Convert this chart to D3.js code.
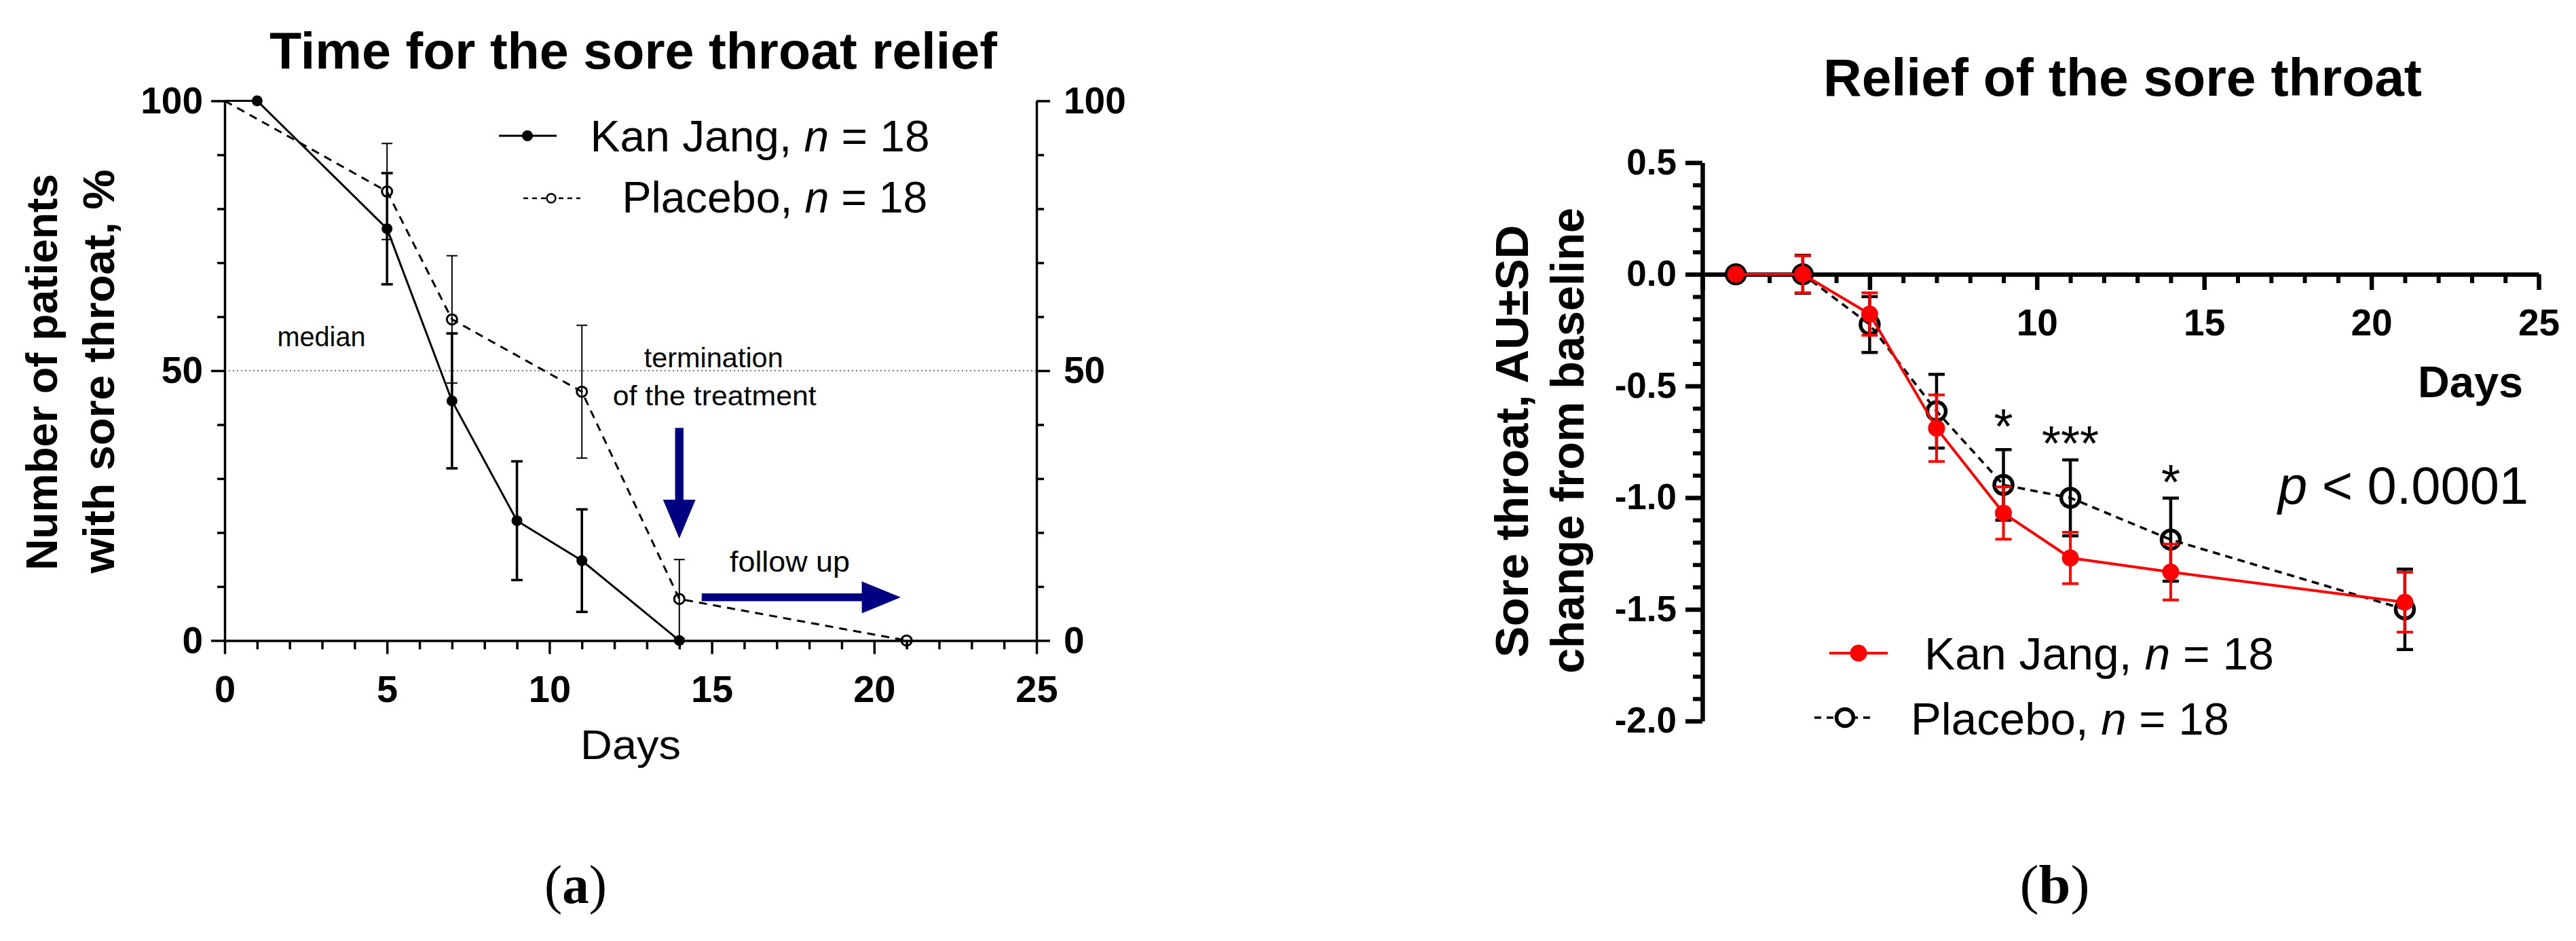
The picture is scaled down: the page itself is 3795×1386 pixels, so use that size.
<!DOCTYPE html>
<html>
<head>
<meta charset="utf-8">
<script src="https://cdn.jsdelivr.net/npm/d3@7"></script>
<style>
  body { margin: 0; background: #fff; }
  svg { display: block; }
</style>
</head>
<body>
<svg id="fig" width="3795" height="1386"></svg>
<script>
// ---- panel (a): patients with sore throat, %
const daysKanA = [0, 1, 5, 7, 9, 11, 14];
const kanA     = [100, 100, 76.3, 44.4, 22.2, 14.8, 0];
const kanErrA  = [0, 0, 10.3, 12.5, 11.0, 9.5, 0];
const daysPlaA = [0, 5, 7, 11, 14, 21];
const plaA     = [100, 83.2, 59.5, 46.1, 7.7, 0];
const plaErrA  = [0, 8.9, 11.8, 12.3, 7.3, 0];
const xTicksA  = [0, 5, 10, 15, 20, 25];
const yTicksA  = [0, 50, 100];

// ---- panel (b): change from baseline, AU ± SD
const daysB  = [1, 3, 5, 7, 9, 11, 14, 21];
const kanB   = [0, 0, -0.178, -0.689, -1.069, -1.270, -1.333, -1.468];
const kanSdB = [0, 0.083, 0.095, 0.149, 0.117, 0.115, 0.125, 0.134];
const plaB   = [0, 0, -0.225, -0.613, -0.943, -1.001, -1.188, -1.500];
const plaSdB = [0, 0.085, 0.125, 0.165, 0.158, 0.170, 0.186, 0.180];
const xTicksB  = [0, 5, 10, 15, 20, 25];
const xLabelsB = [10, 15, 20, 25];
const yTicksB  = [0.5, 0, -0.5, -1, -1.5, -2];
const starDays = [9, 11, 14];
const starText = ['*', '***', '*'];
const starPos  = [-0.757, -0.834, -1.006];

const FONT = '"Liberation Sans", Arial, Helvetica, sans-serif';
const SERIF = '"Liberation Serif", "DejaVu Serif", serif';
const NAVY = '#000080';
const RED = '#ff0000';

const svg = d3.select('#fig');
svg.append('rect').attr('width', 3795).attr('height', 1386).attr('fill', '#fff');

function rows(days, vals, errs) {
  return days.map((d, i) => ({day: d, v: vals[i], e: errs[i]}));
}

// text helper; parts = [[string, italic?, bold?], ...]
function label(parent, parts, x, y, size, opts) {
  opts = opts || {};
  const t = parent.append('text')
    .attr('transform', `translate(${x},${y})` + (opts.rotate ? ` rotate(${opts.rotate})` : ''))
    .attr('font-family', opts.family || FONT)
    .attr('font-size', size)
    .attr('font-weight', opts.bold ? 'bold' : 'normal')
    .attr('text-anchor', opts.anchor || 'start')
    .attr('fill', '#000');
  if (typeof parts === 'string') parts = [[parts]];
  parts.forEach(p => {
    const s = t.append('tspan').text(p[0]);
    if (p[1]) s.attr('font-style', 'italic');
    if (p[2]) s.attr('font-weight', 'bold');
  });
  if (opts.len) t.attr('textLength', opts.len).attr('lengthAdjust', 'spacingAndGlyphs');
  return t;
}

function styleAxis(g, sw, size) {
  g.attr('font-family', FONT).attr('font-size', size).attr('font-weight', 'bold');
  g.selectAll('path.domain').attr('stroke', '#000').attr('stroke-width', sw);
  g.selectAll('.tick line').attr('stroke', '#000').attr('stroke-width', sw);
  g.selectAll('.tick text').attr('fill', '#000');
}

function errorBars(g, data, x, y, color, sw, cap) {
  const eb = g.append('g').attr('stroke', color).attr('stroke-width', sw).attr('fill', 'none');
  data.filter(d => d.e > 0).forEach(d => {
    const cx = x(d.day), y1 = y(d.v - d.e), y2 = y(d.v + d.e);
    eb.append('line').attr('x1', cx).attr('x2', cx).attr('y1', y1).attr('y2', y2);
    eb.append('line').attr('x1', cx - cap).attr('x2', cx + cap).attr('y1', y1).attr('y2', y1);
    eb.append('line').attr('x1', cx - cap).attr('x2', cx + cap).attr('y1', y2).attr('y2', y2);
  });
}

// =========================== panel (a) ===========================
const xA = d3.scaleLinear().domain([0, 25]).range([331, 1527]);
const yA = d3.scaleLinear().domain([0, 100]).range([943.4, 148.5]);
const gA = svg.append('g');

// median line
gA.append('line')
  .attr('x1', xA(0)).attr('x2', xA(25)).attr('y1', yA(50)).attr('y2', yA(50))
  .attr('stroke', '#444').attr('stroke-width', 1.6).attr('stroke-dasharray', '2,4');

// minor ticks
const minorYA = d3.range(0, 101, 10).filter(v => v % 50 !== 0);
const minorXA = d3.range(0, 26, 1).filter(v => v % 5 !== 0);
[
  d3.axisLeft(yA).tickValues(minorYA).tickSize(11).tickSizeOuter(0).tickFormat(''),
].forEach(a => {
  const g = gA.append('g').attr('transform', `translate(${xA(0)},0)`).call(a);
  g.select('.domain').remove();
  styleAxis(g, 3.5, 10);
});
{
  const g = gA.append('g').attr('transform', `translate(${xA(25)},0)`)
    .call(d3.axisRight(yA).tickValues(minorYA).tickSize(11).tickSizeOuter(0).tickFormat(''));
  g.select('.domain').remove();
  styleAxis(g, 3.5, 10);
  const g2 = gA.append('g').attr('transform', `translate(0,${yA(0)})`)
    .call(d3.axisBottom(xA).tickValues(minorXA).tickSize(13).tickSizeOuter(0).tickFormat(''));
  g2.select('.domain').remove();
  styleAxis(g2, 3.5, 10);
}
// major axes
const axLA = gA.append('g').attr('transform', `translate(${xA(0)},0)`)
  .call(d3.axisLeft(yA).tickValues(yTicksA).tickSize(20).tickPadding(12).tickSizeOuter(0));
styleAxis(axLA, 3.5, 55);
const axRA = gA.append('g').attr('transform', `translate(${xA(25)},0)`)
  .call(d3.axisRight(yA).tickValues(yTicksA).tickSize(20).tickPadding(20).tickSizeOuter(0));
styleAxis(axRA, 3.5, 55);
const axBA = gA.append('g').attr('transform', `translate(0,${yA(0)})`)
  .call(d3.axisBottom(xA).tickValues(xTicksA).tickSize(20).tickPadding(31).tickSizeOuter(0));
styleAxis(axBA, 3.5, 56);

// series
const kanRowsA = rows(daysKanA, kanA, kanErrA);
const plaRowsA = rows(daysPlaA, plaA, plaErrA);
const lineA = d3.line().x(d => xA(d.day)).y(d => yA(d.v));

gA.append('path').datum(plaRowsA).attr('d', lineA)
  .attr('fill', 'none').attr('stroke', '#000').attr('stroke-width', 3).attr('stroke-dasharray', '12,9');
gA.append('path').datum(kanRowsA).attr('d', lineA)
  .attr('fill', 'none').attr('stroke', '#000').attr('stroke-width', 3);

errorBars(gA, plaRowsA, xA, yA, '#000', 2, 8);
errorBars(gA, kanRowsA, xA, yA, '#000', 3.6, 8.5);

gA.selectAll('circle.pla').data(plaRowsA.filter(d => d.day > 0)).enter().append('circle')
  .attr('cx', d => xA(d.day)).attr('cy', d => yA(d.v)).attr('r', 7.5)
  .attr('fill', 'none').attr('stroke', '#000').attr('stroke-width', 3);
gA.selectAll('circle.kan').data(kanRowsA.filter(d => d.day > 0)).enter().append('circle')
  .attr('cx', d => xA(d.day)).attr('cy', d => yA(d.v)).attr('r', 8).attr('fill', '#000');

// arrows: termination of the treatment / follow up (data units)
const arrowDown = {day: 14, from: 39.4, head: 26.1, to: 18.9};
const arrowRight = {v: 8.0, from: 14.69, head: 19.62, to: 20.82};
{
  const cx = xA(arrowDown.day), y0 = yA(arrowDown.from), yh = yA(arrowDown.head), yt = yA(arrowDown.to);
  gA.append('path').attr('fill', NAVY)
    .attr('d', `M${cx - 6.2},${y0}H${cx + 6.2}V${yh}H${cx + 24}L${cx},${yt}L${cx - 24},${yh}H${cx - 6.2}Z`);
  const cy = yA(arrowRight.v), x0 = xA(arrowRight.from), xh = xA(arrowRight.head), xt = xA(arrowRight.to);
  gA.append('path').attr('fill', NAVY)
    .attr('d', `M${x0},${cy - 5.8}H${xh}V${cy - 23.5}L${xt},${cy}L${xh},${cy + 23.5}V${cy + 5.8}H${x0}Z`);
}

// texts (a)
label(gA, 'Time for the sore throat relief', 933, 101, 76, {bold: true, anchor: 'middle', len: 1072});
label(gA, 'Number of patients', 84, 548, 65, {bold: true, anchor: 'middle', rotate: -90, len: 584});
label(gA, 'with sore throat, %', 168, 547, 65, {bold: true, anchor: 'middle', rotate: -90, len: 595});
label(gA, 'Days', 929, 1118, 62, {anchor: 'middle', len: 148});
label(gA, 'median', 408.5, 510, 40, {len: 130});
label(gA, 'termination', 948.7, 541, 41, {len: 205});
label(gA, 'of the treatment', 902.7, 597, 41, {len: 300});
label(gA, 'follow up', 1075, 842, 42, {len: 177});

// legend (a)
gA.append('line').attr('x1', 735).attr('x2', 820).attr('y1', 200).attr('y2', 200)
  .attr('stroke', '#000').attr('stroke-width', 3.2);
gA.append('circle').attr('cx', 777).attr('cy', 200).attr('r', 8).attr('fill', '#000');
label(gA, [['Kan Jang, '], ['n', true], [' = 18']], 869.6, 223, 64, {len: 500});
gA.append('line').attr('x1', 771).attr('x2', 855).attr('y1', 292).attr('y2', 292)
  .attr('stroke', '#000').attr('stroke-width', 2.5).attr('stroke-dasharray', '7,6');
gA.append('circle').attr('cx', 812).attr('cy', 292).attr('r', 6.5)
  .attr('fill', '#fff').attr('stroke', '#000').attr('stroke-width', 2.5);
label(gA, [['Placebo, '], ['n', true], [' = 18']], 916.5, 313, 64, {len: 450});

label(gA, [['('], ['a', false, true], [')']], 848, 1330, 80, {family: SERIF, anchor: 'middle', len: 92});

// =========================== panel (b) ===========================
const xB = d3.scaleLinear().domain([0, 25]).range([2508, 3740]);
const yB = d3.scaleLinear().domain([-2, 0.5]).range([1062, 239.5]);
const gB = svg.append('g');

const minorYB = d3.range(-20, 6, 1).filter(v => v % 5 !== 0).map(v => v / 10);
const minorXB = d3.range(0, 26, 1).filter(v => v % 5 !== 0);
{
  const g = gB.append('g').attr('transform', `translate(${xB(0)},0)`)
    .call(d3.axisLeft(yB).tickValues(minorYB).tickSize(14).tickSizeOuter(0).tickFormat(''));
  g.select('.domain').remove();
  styleAxis(g, 6, 10);
  const g2 = gB.append('g').attr('transform', `translate(0,${yB(0)})`)
    .call(d3.axisBottom(xB).tickValues(minorXB).tickSize(13).tickSizeOuter(0).tickFormat(''));
  g2.select('.domain').remove();
  styleAxis(g2, 6, 10);
}
const axLB = gB.append('g').attr('transform', `translate(${xB(0)},0)`)
  .call(d3.axisLeft(yB).tickValues(yTicksB).tickSize(25).tickPadding(13).tickSizeOuter(0)
    .tickFormat(d3.format('.1f')));
styleAxis(axLB, 6.5, 53);
axLB.selectAll('.tick text').text(d => d3.format('.1f')(d).replace('−', '-'));
const axBB = gB.append('g').attr('transform', `translate(0,${yB(0)})`)
  .call(d3.axisBottom(xB).tickValues(xTicksB).tickSize(23).tickPadding(28).tickSizeOuter(0)
    .tickFormat(d => xLabelsB.includes(d) ? d : ''));
styleAxis(axBB, 6.5, 55);

const kanRowsB = rows(daysB, kanB, kanSdB);
const plaRowsB = rows(daysB, plaB, plaSdB);
const lineB = d3.line().x(d => xB(d.day)).y(d => yB(d.v));

// placebo (black, dashed, open circles)
gB.append('path').datum(plaRowsB).attr('d', lineB)
  .attr('fill', 'none').attr('stroke', '#000').attr('stroke-width', 3.6).attr('stroke-dasharray', '11,8');
errorBars(gB, plaRowsB, xB, yB, '#000', 4.5, 12);
gB.selectAll('circle.pla').data(plaRowsB).enter().append('circle')
  .attr('cx', d => xB(d.day)).attr('cy', d => yB(d.v)).attr('r', 13.5)
  .attr('fill', 'none').attr('stroke', '#000').attr('stroke-width', 5.5);

// Kan Jang (red, solid, filled)
gB.append('path').datum(kanRowsB).attr('d', lineB)
  .attr('fill', 'none').attr('stroke', RED).attr('stroke-width', 4);
errorBars(gB, kanRowsB, xB, yB, RED, 4, 12);
gB.selectAll('circle.kan').data(kanRowsB).enter().append('circle')
  .attr('cx', d => xB(d.day)).attr('cy', d => yB(d.v)).attr('r', 12.5).attr('fill', RED);

// significance stars
starDays.forEach((d, i) => {
  label(gB, starText[i], xB(d), yB(starPos[i]), 72, {anchor: 'middle'});
});

// texts (b)
label(gB, 'Relief of the sore throat', 3127, 141, 77, {bold: true, anchor: 'middle', len: 882});
label(gB, 'Sore throat, AU\u00B1SD', 2251, 650, 68, {bold: true, anchor: 'middle', rotate: -90, len: 637});
label(gB, 'change from baseline', 2333, 649, 68, {bold: true, anchor: 'middle', rotate: -90, len: 686});
label(gB, 'Days', 3562, 585, 64, {bold: true, len: 155});
label(gB, [['p', true], [' < 0.0001']], 3356, 742, 78, {len: 369});

// legend (b)
gB.append('line').attr('x1', 2695).attr('x2', 2781).attr('y1', 962).attr('y2', 962)
  .attr('stroke', RED).attr('stroke-width', 4);
gB.append('circle').attr('cx', 2738).attr('cy', 962).attr('r', 12.5).attr('fill', RED);
label(gB, [['Kan Jang, '], ['n', true], [' = 18']], 2835, 986, 67, {len: 515});
gB.append('line').attr('x1', 2673).attr('x2', 2760).attr('y1', 1057).attr('y2', 1057)
  .attr('stroke', '#000').attr('stroke-width', 3.6).attr('stroke-dasharray', '10,8');
gB.append('circle').attr('cx', 2718).attr('cy', 1057).attr('r', 12.5)
  .attr('fill', '#fff').attr('stroke', '#000').attr('stroke-width', 5.5);
label(gB, [['Placebo, '], ['n', true], [' = 18']], 2815, 1082, 67, {len: 469});

label(gB, [['('], ['b', false, true], [')']], 3027, 1330, 80, {family: SERIF, anchor: 'middle', len: 103});
</script>
</body>
</html>
